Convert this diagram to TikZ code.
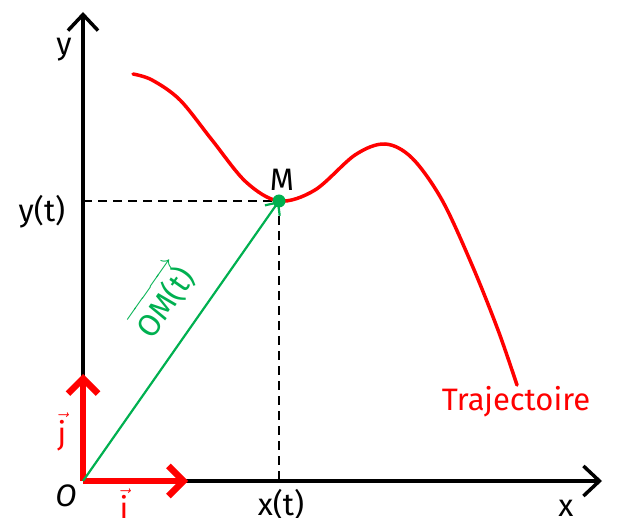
\documentclass[tikz,border=0pt]{standalone}
\usepackage{amsmath}
\usepackage{fontspec}
\setmainfont{Fira Sans}
\usetikzlibrary{arrows.meta, calc}
\definecolor{cTraj}{RGB}{255,0,0}
\definecolor{cVect}{RGB}{0,176,80}

\begin{document}
\begin{tikzpicture}[x=1pt, y=-1pt,
    every node/.style={font=\fontsize{31}{34}\selectfont},
    axis/.style={line width=3.5pt, -{Straight Barb[length=16pt, width=30pt, line width=3.5pt]}},
    base/.style={cTraj, line width=6.5pt, -{Straight Barb[length=15pt, width=30pt, line width=6.5pt]}},
    guide/.style={black, line width=1.8pt, dash pattern=on 9pt off 6pt}]
    \useasboundingbox (0,0) rectangle (618,518);

    % axes
    \coordinate (O) at (83,481);
    \coordinate (xend) at (602,481);
    \coordinate (yend) at (83,12);
    \draw[axis] (O) -- (xend);
    \draw[axis] (O) -- (yend);
    \node (lx) at (566,508) {x};
    \node (ly) at (64,50) {y};
    \node (lO) at (66,496) {\itshape O};

    % point M and projections
    \coordinate (M) at (279,201);
    \coordinate (My) at (83,201);
    \coordinate (Mx) at (279,481);
    \draw[guide] (My) -- (M);
    \draw[guide] (M) -- (Mx);
    \node (lyt) at (42,212) {y(t)};
    \node (lxt) at (281,505) {x(t)};

    % trajectory
    \draw[cTraj, line width=3.5pt, line cap=round] plot[smooth, tension=0.55] coordinates {
        (133,74) (152,80) (180,100) (212,140) (246,182) (279,201) (315,190) (355,155)
        (385,144) (412,158) (442,200) (472,265) (498,330) (517,385)};
    \node[cTraj] (ltraj) at (516,402) {Trajectoire};

    % base vectors
    \coordinate (iend) at (188,481);
    \coordinate (jend) at (83,374);
    \draw[base] (O) -- (iend);
    \draw[base] (O) -- (jend);
    \node[cTraj] (li) at (124,504) {$\vec{\text{i}}$};
    \node[cTraj] (lj) at (62,432) {$\vec{\text{j}}$};

    % position vector
    \draw[cVect, line width=2.2pt, -{Straight Barb[length=10pt, width=18pt, line width=2.2pt]}] (O) -- (M);
    \fill[cVect] (M) circle (6.5pt);
    \node (lM) at (282,180) {M};
    \node[cVect, rotate=55] (lOM) at (162,300) {$\overrightarrow{\text{OM(t)}}$};
\end{tikzpicture}
\end{document}
